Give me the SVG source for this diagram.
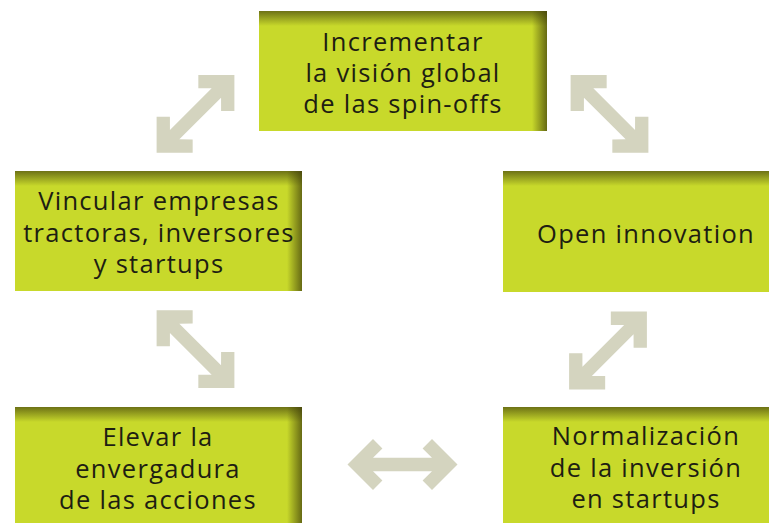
<svg xmlns="http://www.w3.org/2000/svg" width="769" height="523" viewBox="0 0 769 523">
  <style>
    .box { fill: #c8d92b; }
    .lbl { font-family: "Open Sans", "Noto Sans", "Liberation Sans", sans-serif; font-size: 25.5px; letter-spacing: 1.3px; fill: #1e1e12; text-anchor: middle; }
    .arrow { fill: #d4d4bf; }
  </style>
  <defs>
    <linearGradient id="shTop" x1="0" y1="0" x2="0" y2="1">
      <stop offset="0" stop-color="#3c3a0a" stop-opacity="0.65"/>
      <stop offset="1" stop-color="#3c3a0a" stop-opacity="0"/>
    </linearGradient>
    <linearGradient id="shRight" x1="0" y1="0" x2="1" y2="0">
      <stop offset="0" stop-color="#3c3a0a" stop-opacity="0"/>
      <stop offset="1" stop-color="#3c3a0a" stop-opacity="0.7"/>
    </linearGradient>
    <path id="dblArrow" d="M -29.5 -6.65 L -20.1 -16.1 L -29.5 -25.5 L -55 0 L -29.5 25.5 L -20.1 16.1 L -29.5 6.65 L 29.5 6.65 L 20.1 16.1 L 29.5 25.5 L 55 0 L 29.5 -25.5 L 20.1 -16.1 L 29.5 -6.65 Z"/>
  </defs>

  <g id="connectors">
    <use href="#dblArrow" class="arrow" transform="translate(195.5 113.8) rotate(-45)"/>
    <use href="#dblArrow" class="arrow" transform="translate(609.5 113.8) rotate(45)"/>
    <use href="#dblArrow" class="arrow" transform="translate(195.5 349.2) rotate(45)"/>
    <use href="#dblArrow" class="arrow" transform="translate(608 350.5) rotate(-45)"/>
    <use href="#dblArrow" class="arrow" transform="translate(402.5 464.5)"/>
  </g>

  <g id="node-incrementar">
    <rect class="box" x="259" y="11" width="288" height="120"/>
    <rect x="259" y="11" width="288" height="15" fill="url(#shTop)"/>
    <rect x="532" y="11" width="15" height="120" fill="url(#shRight)"/>
    <text class="lbl" x="403" y="51">Incrementar</text>
    <text class="lbl" x="403" y="82">la visión global</text>
    <text class="lbl" x="403" y="113">de las spin-offs</text>
  </g>

  <g id="node-vincular">
    <rect class="box" x="15" y="171" width="287" height="120"/>
    <rect x="15" y="171" width="287" height="15" fill="url(#shTop)"/>
    <rect x="287" y="171" width="15" height="120" fill="url(#shRight)"/>
    <text class="lbl" x="159" y="210">Vincular empresas</text>
    <text class="lbl" x="159" y="242">tractoras, inversores</text>
    <text class="lbl" x="159" y="273">y startups</text>
  </g>

  <g id="node-open">
    <rect class="box" x="503" y="171" width="266" height="121"/>
    <rect x="503" y="171" width="266" height="15" fill="url(#shTop)"/>
    <text class="lbl" x="646" y="243">Open innovation</text>
  </g>

  <g id="node-elevar">
    <rect class="box" x="15" y="407" width="287" height="116"/>
    <rect x="15" y="407" width="287" height="15" fill="url(#shTop)"/>
    <rect x="287" y="407" width="15" height="116" fill="url(#shRight)"/>
    <text class="lbl" x="158" y="446">Elevar la</text>
    <text class="lbl" x="158" y="478">envergadura</text>
    <text class="lbl" x="158" y="509">de las acciones</text>
  </g>

  <g id="node-normalizacion">
    <rect class="box" x="503" y="407" width="266" height="116"/>
    <rect x="503" y="407" width="266" height="15" fill="url(#shTop)"/>
    <text class="lbl" x="646" y="445">Normalización</text>
    <text class="lbl" x="646" y="477">de la inversión</text>
    <text class="lbl" x="646" y="508">en startups</text>
  </g>
</svg>
